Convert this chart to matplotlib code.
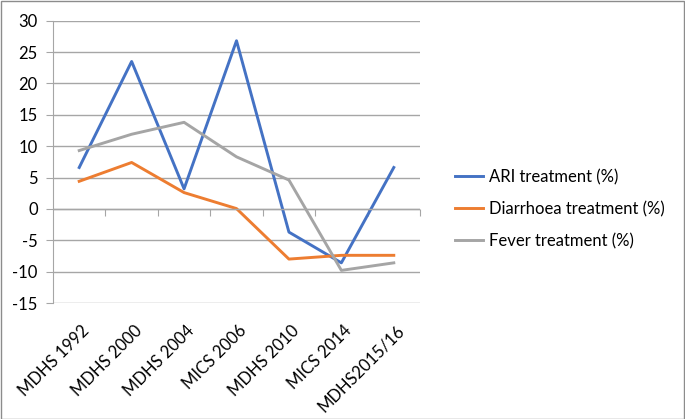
import matplotlib
matplotlib.use("Agg")
import matplotlib.pyplot as plt
from matplotlib.patches import Rectangle
from matplotlib.transforms import ScaledTranslation

categories = ["MDHS 1992", "MDHS 2000", "MDHS 2004", "MICS 2006", "MDHS 2010", "MICS 2014", "MDHS2015/16"]
ari = [6.6, 23.5, 3.2, 26.8, -3.7, -8.6, 6.6]
diarrhoea = [4.4, 7.4, 2.6, 0.05, -8.0, -7.4, -7.4]
fever = [9.3, 11.9, 13.8, 8.3, 4.6, -9.8, -8.6]
yticks = [-15, -10, -5, 0, 5, 10, 15, 20, 25, 30]

plt.rcParams['font.family'] = ['Lato', 'DejaVu Sans']

fig = plt.figure(figsize=(6.85, 4.19), dpi=100)
ax = fig.add_axes([53/685, 1-303/419, (420-53)/685, (303-20.7)/419])

x = list(range(len(categories)))
ax.plot(x, ari, color='#4472C4', lw=2.1, label='ARI treatment (%)', solid_joinstyle='round')
ax.plot(x, diarrhoea, color='#ED7D31', lw=2.1, label='Diarrhoea treatment (%)', solid_joinstyle='round')
ax.plot(x, fever, color='#A5A5A5', lw=2.1, label='Fever treatment (%)', solid_joinstyle='round')

ax.set_xlim(-0.5, len(categories) - 0.5)
ax.set_ylim(-15, 30)
ax.set_yticks(yticks)
ax.set_yticklabels([str(v) for v in yticks])
ax.yaxis.grid(True, color='#A6A6A6', lw=1)
ax.set_axisbelow(True)
for s in ['top', 'right', 'bottom']:
    ax.spines[s].set_visible(False)
ax.spines['left'].set_color('#A6A6A6')
ax.tick_params(axis='y', length=5, color='#A6A6A6', labelsize=12, pad=6, labelcolor='black')

ax.set_xticks(x)
ax.set_xticklabels(categories, rotation=45, ha='right', va='top', rotation_mode='anchor', fontsize=12)
ax.tick_params(axis='x', length=0, pad=14)
shift = ScaledTranslation(2/100, 0, fig.dpi_scale_trans)
for lbl in ax.get_xticklabels():
    lbl.set_transform(lbl.get_transform() + shift)

# zero axis with category boundary ticks
ax.axhline(0, color='#A6A6A6', lw=1)
frac0 = (0 - (-15)) / (30 - (-15))
sec = ax.secondary_xaxis(frac0)
sec.set_xticks([i + 0.5 for i in x])
sec.set_xticklabels([])
sec.tick_params(axis='x', direction='out', length=5, color='#A6A6A6')
sec.spines['bottom'].set_visible(False)
sec.spines['top'].set_visible(False)

leg = fig.legend(loc='center left', bbox_to_anchor=(440/685, 1-209/419), frameon=False,
                 fontsize=12, handlelength=1.7, handletextpad=0.35, labelspacing=0.95)

fig.patches.append(Rectangle((0.5/685, 0.5/419), 1-2/685, 1-2/419, transform=fig.transFigure,
                             fill=False, edgecolor='#8C8C8C', lw=1))

fig.savefig('out.png', dpi=100)
